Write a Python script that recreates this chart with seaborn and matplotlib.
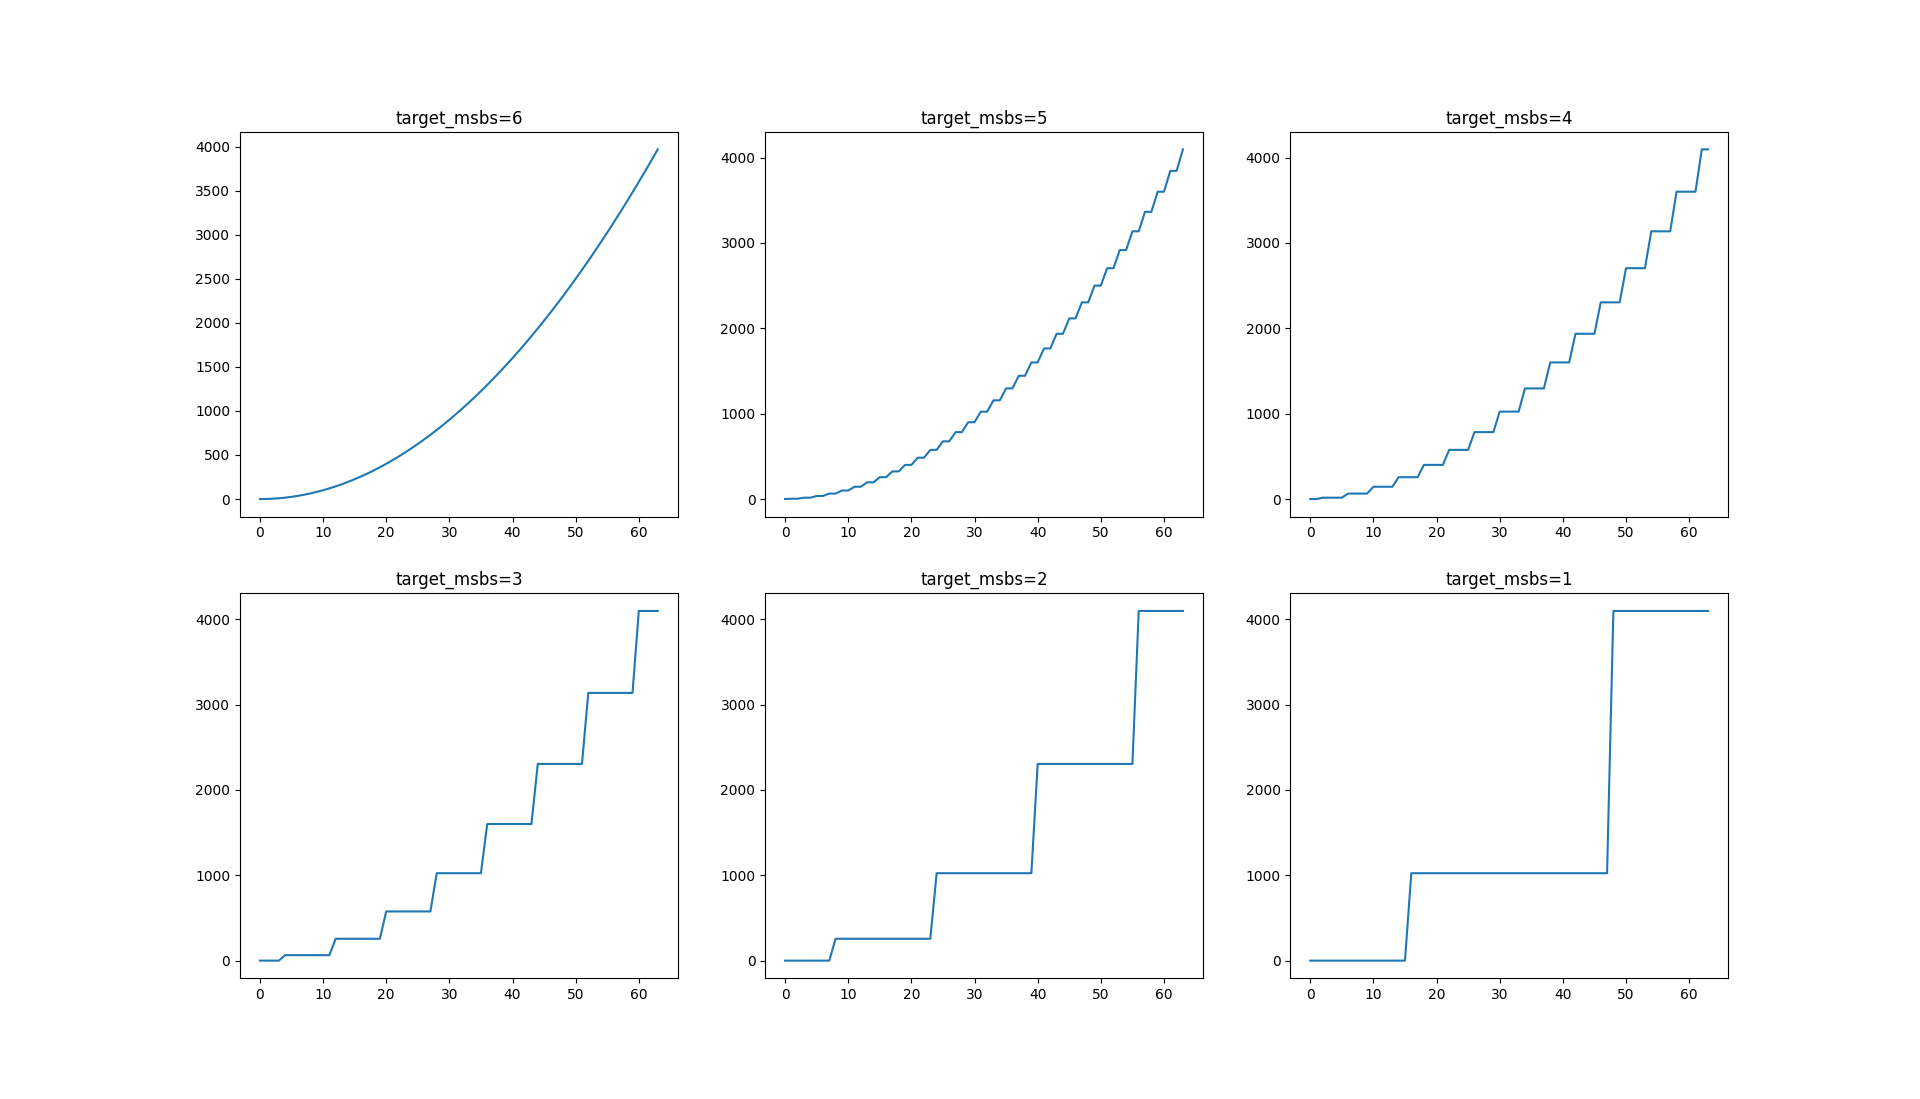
import matplotlib
matplotlib.use("Agg")
import matplotlib.pyplot as plt
import seaborn as sns
import pandas as pd

x_values = list(range(64))

msbs_labels = [6, 5, 4, 3, 2, 1]

y_msbs6 = [0, 1, 4, 9, 16, 25, 36, 49, 64, 81, 100, 121, 144, 169, 196, 225,
           256, 289, 324, 361, 400, 441, 484, 529, 576, 625, 676, 729, 784, 841, 900, 961,
           1024, 1089, 1156, 1225, 1296, 1369, 1444, 1521, 1600, 1681, 1764, 1849, 1936, 2025, 2116, 2209,
           2304, 2401, 2500, 2601, 2704, 2809, 2916, 3025, 3136, 3249, 3364, 3481, 3600, 3721, 3844, 3969]

y_msbs5 = [0, 4, 4, 16, 16, 36, 36, 64, 64, 100, 100, 144, 144, 196, 196, 256,
           256, 324, 324, 400, 400, 484, 484, 576, 576, 676, 676, 784, 784, 900, 900, 1024,
           1024, 1156, 1156, 1296, 1296, 1444, 1444, 1600, 1600, 1764, 1764, 1936, 1936, 2116, 2116, 2304,
           2304, 2500, 2500, 2704, 2704, 2916, 2916, 3136, 3136, 3364, 3364, 3600, 3600, 3844, 3844, 4096]

y_msbs4 = [0, 0, 16, 16, 16, 16, 64, 64, 64, 64, 144, 144, 144, 144, 256, 256,
           256, 256, 400, 400, 400, 400, 576, 576, 576, 576, 784, 784, 784, 784, 1024, 1024,
           1024, 1024, 1296, 1296, 1296, 1296, 1600, 1600, 1600, 1600, 1936, 1936, 1936, 1936, 2304, 2304,
           2304, 2304, 2704, 2704, 2704, 2704, 3136, 3136, 3136, 3136, 3600, 3600, 3600, 3600, 4096, 4096]

y_msbs3 = [0, 0, 0, 0, 64, 64, 64, 64, 64, 64, 64, 64, 256, 256, 256, 256,
           256, 256, 256, 256, 576, 576, 576, 576, 576, 576, 576, 576, 1024, 1024, 1024, 1024,
           1024, 1024, 1024, 1024, 1600, 1600, 1600, 1600, 1600, 1600, 1600, 1600, 2304, 2304, 2304, 2304,
           2304, 2304, 2304, 2304, 3136, 3136, 3136, 3136, 3136, 3136, 3136, 3136, 4096, 4096, 4096, 4096]

y_msbs2 = [0, 0, 0, 0, 0, 0, 0, 0, 256, 256, 256, 256, 256, 256, 256, 256,
           256, 256, 256, 256, 256, 256, 256, 256, 1024, 1024, 1024, 1024, 1024, 1024, 1024, 1024,
           1024, 1024, 1024, 1024, 1024, 1024, 1024, 1024, 2304, 2304, 2304, 2304, 2304, 2304, 2304, 2304,
           2304, 2304, 2304, 2304, 2304, 2304, 2304, 2304, 4096, 4096, 4096, 4096, 4096, 4096, 4096, 4096]

y_msbs1 = [0, 0, 0, 0, 0, 0, 0, 0, 0, 0, 0, 0, 0, 0, 0, 0,
           1024, 1024, 1024, 1024, 1024, 1024, 1024, 1024, 1024, 1024, 1024, 1024, 1024, 1024, 1024, 1024,
           1024, 1024, 1024, 1024, 1024, 1024, 1024, 1024, 1024, 1024, 1024, 1024, 1024, 1024, 1024, 1024,
           4096, 4096, 4096, 4096, 4096, 4096, 4096, 4096, 4096, 4096, 4096, 4096, 4096, 4096, 4096, 4096]

series = [y_msbs6, y_msbs5, y_msbs4, y_msbs3, y_msbs2, y_msbs1]

plt.rcParams['font.family'] = ['DejaVu Sans']
fig, axes = plt.subplots(2, 3, figsize=(19.2, 10.99), dpi=100)

for ax, label, ys in zip(axes.flat, msbs_labels, series):
    df = pd.DataFrame({"x": x_values, "y": ys})
    sns.lineplot(data=df, x="x", y="y", ax=ax, color="#1f77b4", linewidth=1.5)
    ax.set_title(f"target_msbs={label}", fontsize=12)
    ax.set_xlabel("")
    ax.set_ylabel("")

fig.savefig("out.png", dpi=100)
